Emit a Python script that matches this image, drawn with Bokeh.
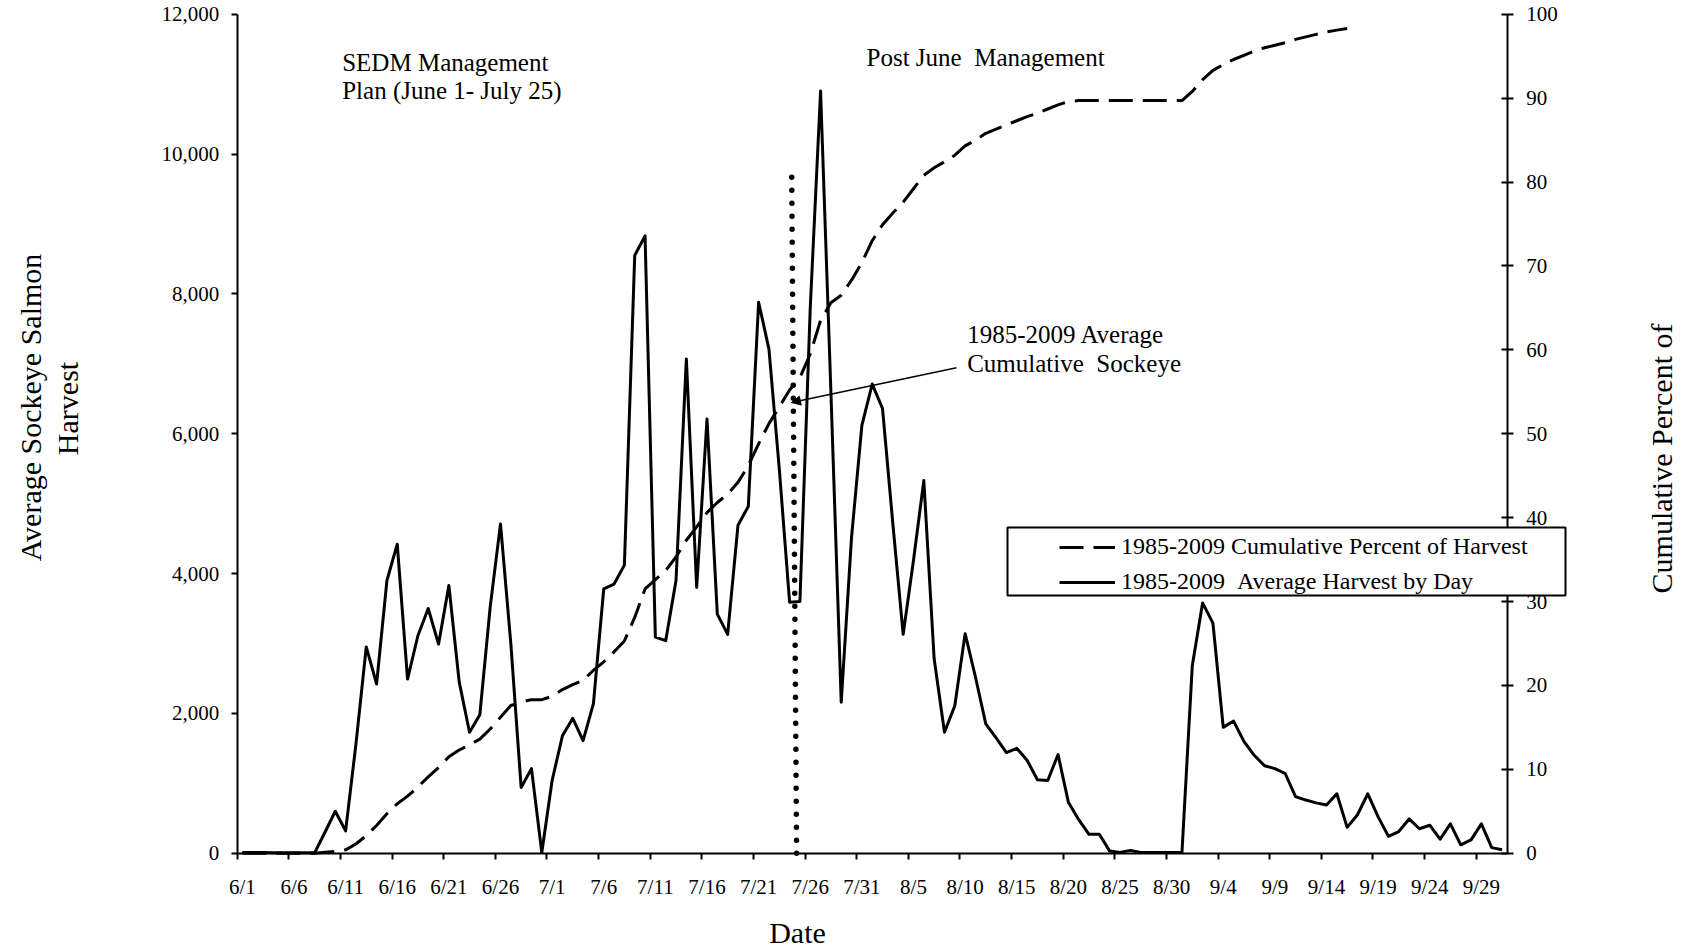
import numpy as np
import pandas as pd
from bokeh.plotting import figure
from bokeh.models import (Range1d, LinearAxis, FixedTicker, NumeralTickFormatter, Label,
                          Arrow, NormalHead, Legend, LegendItem, BoxAnnotation)
from bokeh.embed import file_html
from bokeh.resources import INLINE

# ---------------- data ----------------
dates = [f"{d.month}/{d.day}" for d in pd.date_range("2009-06-01", "2009-10-01")]

# 1985-2009 average harvest by day (fish)
harvest = [10, 10, 10, 5, 5, 5, 5, 5, 300, 600,
           320, 1560, 2950, 2420, 3900, 4420, 2490, 3110, 3500, 2990,
           3830, 2450, 1730, 1980, 3520, 4710, 3000, 940, 1210, 10,
           1040, 1680, 1930, 1610, 2140, 3780, 3850, 4120, 8550, 8830,
           3090, 3040, 3900, 7070, 3800, 6210, 3420, 3130, 4690, 4960,
           7880, 7210, 5500, 3590, 3600, 7800, 10900, 6600, 2160, 4520,
           6120, 6710, 6360, 4710, 3130, 4190, 5330, 2780, 1730, 2110,
           3140, 2520, 1850, 1650, 1440, 1500, 1330, 1050, 1040, 1410,
           730, 480, 270, 270, 30, 10, 40, 10, 10, 10,
           10, 10, 2680, 3580, 3290, 1800, 1890, 1600, 1400, 1250,
           1210, 1140, 810, 760, 720, 690, 850, 370, 550, 850,
           520, 240, 310, 490, 350, 400, 200, 420, 120, 190,
           420, 80, 50]

# 1985-2009 cumulative percent of harvest
cum_pct = [0.0, 0.0, 0.0, 0.0, 0.0, 0.0, 0.0, 0.0, 0.1, 0.2,
           0.4, 1.1, 2.1, 3.3, 4.7, 5.9, 6.8, 7.9, 9.1, 10.2,
           11.5, 12.3, 12.9, 13.6, 14.8, 16.2, 17.6, 18.0, 18.3, 18.3,
           18.7, 19.5, 20.1, 20.6, 21.8, 22.8, 24.0, 25.3, 28.1, 31.5,
           32.6, 33.7, 35.3, 37.3, 38.9, 40.6, 41.8, 42.8, 44.2, 46.2,
           48.8, 51.2, 53.2, 55.2, 56.7, 59.5, 63.5, 65.6, 66.5, 68.3,
           70.4, 73.0, 74.9, 76.3, 77.6, 79.2, 80.8, 81.7, 82.4, 83.2,
           84.3, 85.0, 85.8, 86.3, 86.8, 87.3, 87.8, 88.2, 88.7, 89.2,
           89.6, 89.7, 89.7, 89.7, 89.7, 89.7, 89.7, 89.7, 89.7, 89.7,
           89.7, 89.7, 90.8, 92.2, 93.3, 94.0, 94.6, 95.1, 95.6, 96.0,
           96.3, 96.6, 97.0, 97.3, 97.6, 97.9, 98.1, 98.3]

tick_labels = ["6/1", "6/6", "6/11", "6/16", "6/21", "6/26", "7/1", "7/6", "7/11",
               "7/16", "7/21", "7/26", "7/31", "8/5", "8/10", "8/15", "8/20", "8/25",
               "8/30", "9/4", "9/9", "9/14", "9/19", "9/24", "9/29"]
left_ticks = [0, 2000, 4000, 6000, 8000, 10000, 12000]
right_ticks = [0, 10, 20, 30, 40, 50, 60, 70, 80, 90, 100]

FONT = "Liberation Serif"
NB = "\u00a0"  # keeps the original double spacing visible in SVG text

# ---------------- geometry (canvas pixels) ----------------
W, H = 1686, 951
AX_L, AX_R, AX_T, AX_B = 236.7, 1506.7, 13.7, 852.7   # where the axes sit
N = len(dates)
slot = (AX_R - AX_L) / N
upp = 12000.0 / (AX_B - AX_T)
ppp = 100.0 / (AX_B - AX_T)


def px_x(px):
    return -0.5 + (px - AX_L) / slot


def px_y(py):
    return (AX_B - py) * upp


x = list(range(N))

p = figure(width=W, height=H, output_backend="svg", toolbar_location=None,
           x_range=Range1d(px_x(0), px_x(W)), y_range=Range1d(px_y(H), px_y(0)),
           x_axis_location=None, y_axis_location=None, min_border=0)
p.extra_y_ranges = {"pct": Range1d((AX_B - H) * ppp, AX_B * ppp)}
p.outline_line_color = None
for g in p.grid:
    g.visible = False
p.background_fill_color = "white"
p.border_fill_color = "white"


def style_axis(ax):
    ax.axis_line_color = "black"
    ax.axis_line_width = 2
    ax.major_tick_line_color = "black"
    ax.major_tick_line_width = 2
    ax.minor_tick_line_color = None
    ax.major_label_text_font = FONT
    ax.major_label_text_font_size = "21px"
    ax.major_label_text_color = "black"


# bottom axis: labels centred on days, tick marks at category boundaries (minor ticks)
xa = LinearAxis(fixed_location=0, bounds=(-0.5, N - 0.5),
                ticker=FixedTicker(ticks=[dates.index(t) for t in tick_labels],
                                   minor_ticks=[dates.index(t) - 0.5 for t in tick_labels]),
                major_label_overrides={dates.index(t): t for t in tick_labels})
style_axis(xa)
xa.major_tick_line_color = None
xa.major_tick_out = 6
xa.major_tick_in = 0
xa.minor_tick_line_color = "black"
xa.minor_tick_line_width = 2
xa.minor_tick_out = 6
xa.minor_tick_in = 0
xa.major_label_standoff = 16
p.add_layout(xa, "below")

ya = LinearAxis(fixed_location=-0.5, bounds=(0, 12000), ticker=FixedTicker(ticks=left_ticks),
                formatter=NumeralTickFormatter(format="0,0"))
style_axis(ya)
ya.major_tick_out = 6
ya.major_tick_in = 0
ya.major_label_standoff = 12
p.add_layout(ya, "left")

yr = LinearAxis(y_range_name="pct", fixed_location=N - 0.5, bounds=(0, 100),
                ticker=FixedTicker(ticks=right_ticks))
style_axis(yr)
yr.major_tick_out = 6
yr.major_tick_in = 6
yr.major_label_standoff = 13
p.add_layout(yr, "right")

# ---------------- series ----------------
r_cum = p.line(x[:len(cum_pct)], cum_pct, y_range_name="pct", line_color="black",
               line_width=3, line_dash="24 10")
r_h = p.line(x, harvest, line_color="black", line_width=3, line_join="round")

# dotted marker at the end of the SEDM plan (July 25)
d = dates.index("7/25") - 0.5
p.line([d + 0.18, d - 0.3], [0, 9800], line_color="black", line_width=5.5,
       line_dash="0 13", line_cap="round")

# ---------------- annotations ----------------
def lab(text, px, py, size="25px", align="left", angle=0.0):
    p.add_layout(Label(x=px_x(px), y=px_y(py), text=text, text_font=FONT,
                       text_font_size=size, text_align=align, text_baseline="middle",
                       text_color="black", angle=angle))


lab("SEDM Management", 341.7, 61.5)
lab("Plan (June 1- July 25)", 341.7, 90)
lab(f"Post June {NB}Management", 866, 56.7)
lab("1985-2009 Average", 966.7, 334)
lab(f"Cumulative {NB}Sockeye", 966.7, 363)

p.add_layout(Arrow(end=NormalHead(size=9, fill_color="black", line_color="black", line_width=1),
                   x_start=px_x(956), y_start=px_y(367.3), x_end=px_x(791), y_end=px_y(402),
                   line_color="black", line_width=1.4))

# axis titles
lab("Date", 797, 932, size="30px", align="center")
lab("Average Sockeye Salmon", 30, 407, size="30px", align="center", angle=np.pi / 2)
lab("Harvest", 67, 408, size="30px", align="center", angle=np.pi / 2)
lab("Cumulative Percent of", 1661, 458, size="30px", align="center", angle=np.pi / 2)

# legend (box drawn over the right axis as in the original)
box = BoxAnnotation(left=px_x(1007), right=px_x(1565), top=px_y(527), bottom=px_y(595),
                    fill_color="white", fill_alpha=1.0, line_color="black", line_alpha=1.0,
                    line_width=2)
p.add_layout(box)

legend = Legend(items=[LegendItem(label="1985-2009 Cumulative Percent of Harvest", renderers=[r_cum]),
                       LegendItem(label=f"1985-2009 {NB}Average Harvest by Day", renderers=[r_h])],
                location=(1059, H - 596.7), padding=0, margin=0, spacing=5,
                glyph_width=56, glyph_height=30, label_height=30, label_standoff=6,
                label_text_font=FONT, label_text_font_size="24px", label_text_color="black",
                border_line_color=None, background_fill_alpha=0)
p.add_layout(legend)

open("out.html", "w").write(file_html(p, INLINE))
